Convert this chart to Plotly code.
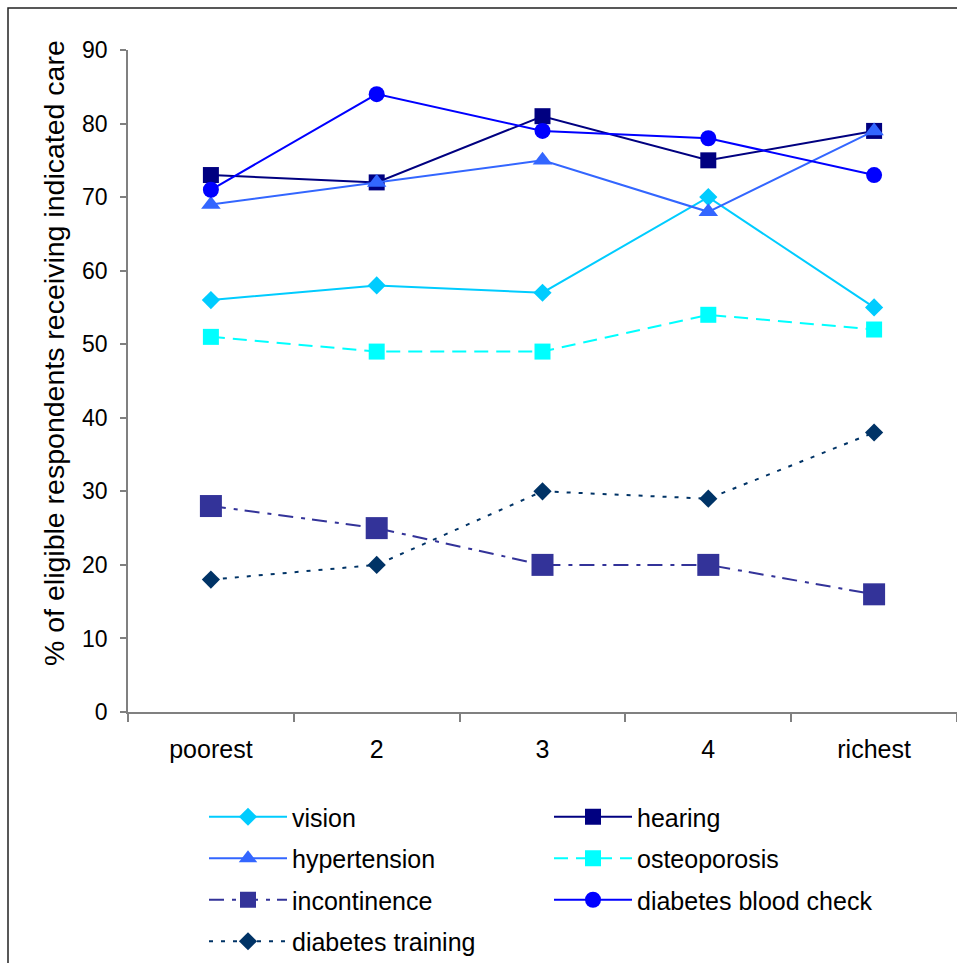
import plotly.graph_objects as go

categories = ["poorest", "2", "3", "4", "richest"]

vision = [56, 58, 57, 70, 55]
hearing = [73, 72, 81, 75, 79]
hypertension = [69, 72, 75, 68, 79]
osteoporosis = [51, 49, 49, 54, 52]
incontinence = [28, 25, 20, 20, 16]
diabetes_blood_check = [71, 84, 79, 78, 73]
diabetes_training = [18, 20, 30, 29, 38]

y_ticks = [0, 10, 20, 30, 40, 50, 60, 70, 80, 90]

FONT = "Liberation Sans, Arial, sans-serif"

series = [
    # name, values, color, dash, symbol, size, legend
    ("vision", vision, "#00CCFF", "solid", "diamond", 14, "legend"),
    ("hearing", hearing, "#000080", "solid", "square", 16, "legend2"),
    ("hypertension", hypertension, "#3366FF", "solid", "triangle-up", 17, "legend"),
    ("osteoporosis", osteoporosis, "#00FFFF", "14px,8px", "square", 16, "legend2"),
    ("incontinence", incontinence, "#333399", "15px,8px,4px,7px", "square", 22, "legend"),
    ("diabetes blood check", diabetes_blood_check, "#0000FF", "solid", "circle", 16, "legend2"),
    ("diabetes training", diabetes_training, "#003366", "4px,8px", "diamond", 14, "legend"),
]

fig = go.Figure()
for name, vals, color, dash, symbol, size, leg in series:
    fig.add_trace(go.Scatter(
        x=categories, y=vals, name=name, mode="lines+markers",
        line=dict(color=color, width=2, dash=dash),
        marker=dict(symbol=symbol, size=size, color=color),
        legend=leg, legendgroup=name,
    ))

W, H = 957, 963
ml, mr, mt, mb = 128, 0, 50, 251
pw = W - ml - mr
ph = H - mt - mb

def px_x(p):
    return (p - ml) / pw

def px_y(p):
    return (H - mb - p) / ph

legend_common = dict(
    font=dict(family=FONT, size=25, color="black"),
    bgcolor="rgba(0,0,0,0)",
    traceorder="grouped",
    tracegroupgap=6,
    itemwidth=78,
    orientation="v",
    xref="container",
    yref="container",
    xanchor="left",
    yanchor="top",
)

fig.update_layout(
    width=W, height=H,
    margin=dict(l=ml, r=mr, t=mt, b=mb, autoexpand=False),
    paper_bgcolor="white",
    plot_bgcolor="white",
    font=dict(family=FONT, color="black"),
    showlegend=True,
    legend=dict(x=204 / W, y=1 - 794 / H, **legend_common),
    legend2=dict(x=549 / W, y=1 - 794 / H, **legend_common),
    xaxis=dict(
        type="category",
        range=[-0.5, 4.5],
        showgrid=False,
        showline=True, linecolor="#808080", linewidth=1.5,
        ticks="outside", tickson="boundaries", ticklen=8, tickcolor="#808080",
        tickwidth=1.5,
        tickfont=dict(family=FONT, size=25, color="black"),
        ticklabelstandoff=14,
        zeroline=False,
        automargin=False,
        fixedrange=True,
    ),
    yaxis=dict(
        range=[0, 90],
        tickvals=y_ticks,
        showgrid=False,
        showline=True, linecolor="#808080", linewidth=1.5,
        ticks="outside", ticklen=6, tickcolor="#808080", tickwidth=1.5,
        tickfont=dict(family=FONT, size=23, color="black"),
        ticklabelstandoff=8,
        zeroline=False,
        automargin=False,
        fixedrange=True,
    ),
    annotations=[dict(
        text="% of eligible respondents receiving indicated care",
        xref="paper", yref="paper", x=px_x(54), y=px_y(353),
        xanchor="center", yanchor="middle", textangle=-90, showarrow=False,
        font=dict(family=FONT, size=28.5, color="black"),
    )],
    shapes=[dict(
        type="rect", xref="paper", yref="paper",
        x0=px_x(8), x1=px_x(1000), y0=px_y(1000), y1=px_y(8),
        line=dict(color="#222222", width=1.5), fillcolor="rgba(0,0,0,0)",
        layer="below",
    )],
)

fig.write_html("out.html")
